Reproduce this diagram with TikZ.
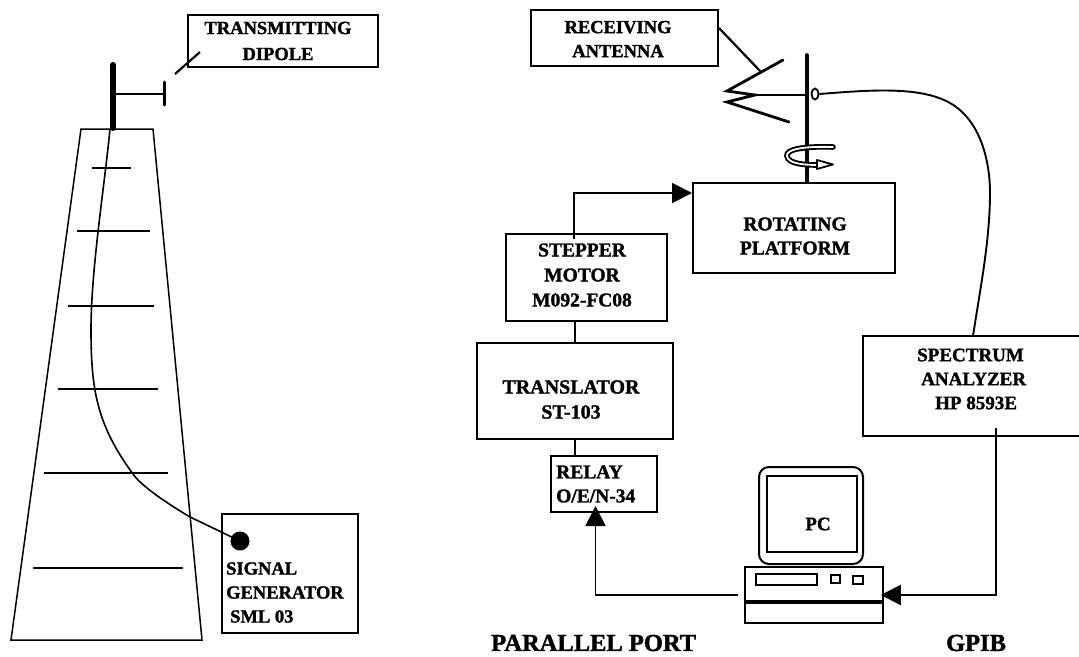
\documentclass[tikz,border=0pt]{standalone}
\usepackage{fontspec}
\setmainfont[BoldFeatures={FakeBold=1.5}]{Liberation Serif}
\usetikzlibrary{arrows.meta,shapes.geometric}
\tikzset{
  box/.style={draw=black,line width=2pt,inner sep=0pt,fill=none,rectangle},
  lbl/.style={inner sep=0pt,align=center,font=\bfseries\fontsize{18.5}{24}\selectfont},
  lbll/.style={inner sep=0pt,align=left,font=\bfseries\fontsize{18.5}{24}\selectfont},
  big/.style={inner sep=0pt,font=\bfseries\fontsize{24.5}{24}\selectfont},
  rung/.style={line width=1.5pt},
  tower/.style={line width=1.5pt,line join=miter},
  thickwire/.style={line width=2.8pt},
  arrowwire/.style={line width=1.9pt,-{Triangle[length=20pt,width=20pt]}},
}
\begin{document}
\begin{tikzpicture}[x=1pt,y=-1pt]
\useasboundingbox (0,0) rectangle (1079,656);
% left: tower
\draw[tower] (81,129) -- (153,129) -- (202,640) -- (11,640) -- cycle;
\foreach \yy/\xa/\xb in {168/92/131,231/77/150,306/68/154,389/58/158,473/44/168,568/33/183}
  \draw[rung] (\xa,\yy) -- (\xb,\yy);
\draw[line width=6pt,line cap=round] (113,65) -- (113,128);
\draw[line width=2.6pt] (113,94) -- (164,94);
\draw[line width=3pt,line cap=round] (164.5,82) -- (164.5,105);
% transmitting dipole
\node[box,minimum width=190pt,minimum height=52pt] (tx) at (283,41) {};
\node[lbl,font=\bfseries\fontsize{18.5}{26}\selectfont] (txt) at (278,41) {TRANSMITTING\\DIPOLE};
\coordinate (txa) at (175,74);
\coordinate (txb) at (200,52);
\draw[line width=2.2pt] (txa) -- (txb);
% signal generator
\node[box,minimum width=136pt,minimum height=119pt] (sg) at (290,573.5) {};
\node[lbll,anchor=west] (sgt) at (226,592.5) {SIGNAL\\GENERATOR\\\hspace*{4pt}SML 03};
\node[circle,fill=black,inner sep=0pt,minimum size=19pt] (dot) at (240,541) {};
\draw[line width=1.6pt] (110,129) .. controls (104,190) and (91,270) .. (91,330)
  .. controls (91,390) and (97,425) .. (133,474)
  .. controls (142,487) and (170,505) .. (190,517) -- (dot.center);
% receiving antenna
\node[box,minimum width=187pt,minimum height=56pt] (rx) at (624.5,38) {};
\node[lbl] (rxt) at (618,39) {RECEIVING\\ANTENNA};
\coordinate (rxa) at (761,72);
\draw[line width=2.2pt] (rx.east |- 0,28) -- (rxa);
\coordinate (apexa) at (727,91);
\coordinate (apexb) at (727,102);
\coordinate (armu) at (783,60);
\coordinate (arml) at (789,122);
\coordinate (midp) at (755,95);
\draw[line width=2.8pt,line cap=round] (armu) -- (apexa) -- (midp) -- (apexb) -- (arml);
% mast, platform
\node[box,minimum width=202pt,minimum height=90pt] (plat) at (794,228) {};
\node[lbl,font=\bfseries\fontsize{19.5}{24}\selectfont] (platt) at (795,236) {ROTATING\\PLATFORM};
\coordinate (mtop) at (807,55);
\draw[line width=3.6pt,line cap=round] (mtop) -- (plat.north -| mtop);
\draw[line width=1.9pt] (midp) -- (mtop |- midp);
\node[ellipse,draw=black,line width=1.8pt,fill=white,inner sep=0pt,minimum width=7pt,minimum height=11pt] (feed) at (815,94) {};
% rotation arrow
\draw[draw=black,double=white,line width=1.9pt,double distance=1.8pt,line cap=round]
  (833,147) .. controls (800,146) and (786,150) .. (787,156) .. controls (788,164) and (805,165) .. (818,165);
\draw[line width=1.8pt,fill=white,line join=round] (817,160) -- (833,164.5) -- (817,169) -- cycle;
% spectrum analyser
\node[inner sep=0pt,minimum width=216pt,minimum height=100pt] (spec) at (971,386) {};
\draw[line width=2pt] (spec.north east) -- (spec.north west) -- (spec.south west) -- (spec.south east);
\node[lbll,font=\bfseries\fontsize{19}{24}\selectfont,align=left,anchor=west] (spect) at (917,379) {SPECTRUM\\\hspace*{4pt}ANALYZER\\\hspace*{18pt}HP 8593E};
\coordinate (cS) at (973,336);
\draw[line width=1.9pt] (feed.east) .. controls (870,90) and (920,86) .. (950,103)
  .. controls (980,120) and (990,160) .. (990,193)
  .. controls (990,240) and (980,290) .. (cS);
% stepper, translator, relay
\node[box,minimum width=161pt,minimum height=87pt] (step1) at (586.5,277.5) {};
\node[lbl,font=\bfseries\fontsize{19.5}{25}\selectfont] (stept) at (582,275) {STEPPER\\MOTOR\\M092-FC08};
\node[box,minimum width=196pt,minimum height=96pt] (trans) at (575,391) {};
\node[lbl,font=\bfseries\fontsize{20}{25}\selectfont] (transt) at (571,399.5) {TRANSLATOR\\ST-103};
\node[box,minimum width=106pt,minimum height=56pt] (relay) at (604,484) {};
\node[lbll,font=\bfseries\fontsize{19.5}{24}\selectfont,anchor=west] (relayt) at (556,484) {RELAY\\O/E/N-34};
\draw[thickwire] (step1.south -| 575,0) -- (trans.north -| 575,0);
\draw[thickwire] (trans.south -| 575,0) -- (relay.north -| 575,0);
\draw[arrowwire] ([xshift=-12.5pt,yshift=-6pt]step1.north) |- ([yshift=35pt]plat.west);
% PC
\node[draw=black,line width=2pt,rounded corners=10pt,minimum width=104pt,minimum height=97pt,inner sep=0pt] (mon) at (811,515.5) {};
\node[draw=black,line width=2pt,minimum width=90pt,minimum height=76pt,inner sep=0pt] (scr) at (812,514) {};
\node[inner sep=0pt,font=\bfseries\fontsize{19}{24}\selectfont] (pc) at (818,524) {PC};
\node[box,minimum width=137.5pt,minimum height=56pt] (base) at (814,595) {};
\coordinate (bandl) at (745.5,602);
\coordinate (bandr) at (883,602);
\draw[line width=3.4pt] (bandl) -- (bandr);
\node[box,minimum width=61pt,minimum height=11pt] (slot) at (786,579.5) {};
\node[box,minimum width=9pt,minimum height=8pt] (b1) at (835.5,579) {};
\node[box,minimum width=10pt,minimum height=8pt] (b2) at (858,580) {};
% connections
\draw[arrowwire] ([xshift=-6pt]base.west) -| ([xshift=-8.5pt,yshift=7pt]relay.south);
\draw[arrowwire] ([xshift=25pt,yshift=8pt]spec.south) |- ([xshift=-3pt]base.east);
% captions
\node[big,anchor=west] (par) at (491,643) {PARALLEL PORT};
\node[big] (gpib) at (976,643) {GPIB};
\end{tikzpicture}
\end{document}
